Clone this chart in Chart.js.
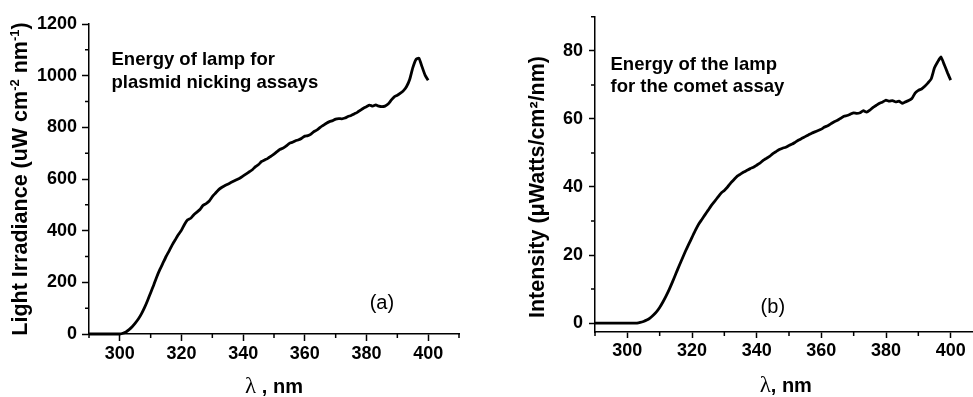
<!DOCTYPE html>
<html>
<head>
<meta charset="utf-8">
<script src="https://cdn.jsdelivr.net/npm/chart.js@4.4.1/dist/chart.umd.min.js"></script>
<style>
  html, body { margin: 0; padding: 0; background: #fff; overflow: hidden; width: 973px; height: 397px; }
  canvas { position: absolute; top: 0; }
  #chartA { left: 0; }
  #chartB { left: 490px; }
</style>
</head>
<body>
<canvas id="chartA" width="480" height="397"></canvas>
<canvas id="chartB" width="500" height="397"></canvas>
<script>
// Panel (a): lamp used for the plasmid nicking assays, irradiance in uW cm-2 nm-1
const wavelengthA = [290, 293, 296, 299, 300, 301, 302, 303, 304, 305, 306, 307, 308, 309, 310,
  311, 312, 313, 314, 315, 316, 317, 318, 319, 320, 321, 322, 323, 324, 325, 326, 327, 328, 329, 330,
  331, 332, 333, 334, 335, 336, 337, 338, 339, 340, 341, 342, 343, 344, 345, 346, 347, 348, 349, 350,
  351, 352, 353, 354, 355, 356, 357, 358, 359, 360, 361, 362, 363, 364, 365, 366, 367, 368, 369, 370,
  371, 372, 373, 374, 375, 376, 377, 378, 379, 380, 381, 382, 383, 384, 385, 386, 387, 388, 389, 390,
  391, 392, 393, 394, 395, 396, 397, 398, 399, 400];
const irradianceA = [0, 0, 0, 0, 0, 3, 8, 17, 28, 42, 58, 78, 102, 130, 160,
  190, 222, 250, 275, 300, 322, 345, 365, 385, 402, 425, 442, 448, 462, 472, 482, 498, 505, 515, 532,
  545, 558, 567, 574, 580, 586, 592, 598, 604, 612, 620, 628, 636, 648, 656, 668, 674, 680, 688, 696,
  706, 715, 720, 728, 738, 742, 748, 752, 758, 766, 768, 774, 784, 790, 800, 808, 816, 822, 826, 832,
  834, 833, 836, 842, 846, 852, 858, 866, 874, 880, 886, 882, 887, 882, 880, 882, 890, 905, 918, 924,
  932, 942, 958, 985, 1030, 1062, 1068, 1035, 1002, 982];

// Panel (b): lamp used for the comet assay, intensity in uWatts/cm2/nm
const wavelengthB = [290, 293, 296, 299, 302, 303, 304, 305, 306, 307, 308, 309, 310,
  311, 312, 313, 314, 315, 316, 317, 318, 319, 320, 321, 322, 323, 324, 325, 326, 327, 328, 329, 330,
  331, 332, 333, 334, 335, 336, 337, 338, 339, 340, 341, 342, 343, 344, 345, 346, 347, 348, 349, 350,
  351, 352, 353, 354, 355, 356, 357, 358, 359, 360, 361, 362, 363, 364, 365, 366, 367, 368, 369, 370,
  371, 372, 373, 374, 375, 376, 377, 378, 379, 380, 381, 382, 383, 384, 385, 386, 387, 388, 389, 390,
  391, 392, 393, 394, 395, 396, 397, 398, 399, 400];
const intensityB = [0, 0, 0, 0, 0, 0, 0.2, 0.5, 0.9, 1.5, 2.3, 3.3, 4.6,
  6.2, 8.0, 10.0, 12.2, 14.5, 16.8, 19.0, 21.2, 23.2, 25.2, 27.2, 29.0, 30.4, 31.8, 33.2, 34.6, 35.8, 37.0, 38.2, 39.0,
  40.0, 41.2, 42.2, 43.2, 43.8, 44.4, 44.9, 45.4, 45.8, 46.4, 47.0, 47.8, 48.4, 49.0, 49.8, 50.4, 51.0, 51.4, 51.7, 52.2,
  52.6, 53.2, 53.8, 54.3, 54.8, 55.3, 55.8, 56.2, 56.6, 57.0, 57.6, 58.0, 58.6, 59.2, 59.6, 60.2, 60.8, 61.0, 61.4, 61.8,
  61.6, 61.8, 62.4, 62.0, 62.6, 63.4, 64.0, 64.6, 65.0, 65.5, 65.2, 65.4, 65.0, 65.2, 64.6, 65.0, 65.4, 66.0, 67.6, 68.4,
  68.8, 69.6, 70.6, 71.8, 75.0, 76.8, 78.2, 76.0, 73.6, 71.4];

// Tick values shared by both panels
const xMajorTicks = [300, 320, 340, 360, 380, 400];
const xMinorTicks = [290, 310, 330, 350, 370, 390, 410];
const yMajorTicksA = [0, 200, 400, 600, 800, 1000, 1200];
const yMinorTicksA = [100, 300, 500, 700, 900, 1100];
const yMajorTicksB = [0, 20, 40, 60, 80];
const yMinorTicksB = [10, 30, 50, 70, 90];

const SANS = '"Liberation Sans", Arial, Helvetica, sans-serif';
const SERIF = '"Liberation Serif", "Times New Roman", serif';

// Draws a row of differently styled text pieces centred on (x, y), optionally rotated
function drawRuns(ctx, runs, x, y, angle) {
  ctx.save();
  ctx.translate(x, y);
  ctx.rotate(angle || 0);
  ctx.textAlign = 'left';
  ctx.textBaseline = 'alphabetic';
  ctx.fillStyle = '#000';
  let total = 0;
  runs.forEach(r => { ctx.font = r.font; r.w = ctx.measureText(r.text).width; total += r.w; });
  let cx = -total / 2;
  runs.forEach(r => { ctx.font = r.font; ctx.fillText(r.text, cx, -(r.rise || 0)); cx += r.w; });
  ctx.restore();
}

// Minor ticks, axis titles and in-plot annotations
const figureDecor = {
  id: 'figureDecor',
  afterDraw(chart, args, opts) {
    const ctx = chart.ctx;
    const xs = chart.scales.x, ys = chart.scales.y;
    ctx.save();
    ctx.strokeStyle = '#000';
    ctx.lineWidth = 1.5;
    ctx.beginPath();
    opts.xMinor.forEach(v => {
      const px = xs.getPixelForValue(v);
      ctx.moveTo(px, xs.top); ctx.lineTo(px, xs.top + opts.minorLen);
    });
    opts.yMinor.forEach(v => {
      const py = ys.getPixelForValue(v);
      ctx.moveTo(ys.right, py); ctx.lineTo(ys.right - opts.minorLen, py);
    });
    ctx.stroke();
    ctx.restore();

    // y-axis title, rotated
    drawRuns(ctx, opts.yTitle, chart.chartArea.left - opts.yTitleGap, ys.getPixelForValue(opts.yTitleCentre), -Math.PI / 2);
    // x-axis title
    drawRuns(ctx, opts.xTitle, xs.getPixelForValue(opts.xTitleCentre), chart.height - opts.xTitleBottom, 0);

    // annotation text block
    ctx.save();
    ctx.fillStyle = '#000';
    ctx.textAlign = 'left';
    ctx.textBaseline = 'alphabetic';
    ctx.font = 'bold 18.5px ' + SANS;
    const ax = xs.getPixelForValue(opts.note.x), ay = ys.getPixelForValue(opts.note.y);
    opts.note.lines.forEach((t, i) => ctx.fillText(t, ax, ay + i * 22.5));
    // panel letter
    ctx.font = '20px ' + SANS;
    ctx.textAlign = 'center';
    ctx.textBaseline = 'middle';
    ctx.fillText(opts.panel.text, xs.getPixelForValue(opts.panel.x), ys.getPixelForValue(opts.panel.y));
    ctx.restore();
  }
};

function buildChart(id, xVals, yVals, cfg) {
  const tickFont = { family: SANS, size: 18, weight: 'bold' };
  return new Chart(document.getElementById(id), {
    type: 'line',
    data: {
      datasets: [{
        data: xVals.map((x, i) => ({ x: x, y: yVals[i] })),
        borderColor: '#000',
        borderWidth: 2.8,
        pointRadius: 0,
        tension: 0.15,
        fill: false,
        clip: false
      }]
    },
    options: {
      responsive: false,
      animation: false,
      events: [],
      layout: { autoPadding: false, padding: cfg.padding },
      plugins: {
        legend: { display: false },
        tooltip: { enabled: false },
        figureDecor: cfg.decor
      },
      scales: {
        x: {
          type: 'linear',
          min: 290,
          max: 410,
          afterBuildTicks: s => { s.ticks = xMajorTicks.map(v => ({ value: v })); },
          afterFit: s => { s.height = cfg.xAxisHeight; },
          ticks: { font: tickFont, color: '#000', padding: cfg.xPad, maxRotation: 0, autoSkip: false, callback: v => String(v) },
          grid: { drawOnChartArea: false, drawTicks: true, tickLength: cfg.tickLen, tickColor: '#000', tickWidth: 1.5 },
          border: { display: true, color: '#000', width: 1.5 }
        },
        y: {
          type: 'linear',
          min: cfg.yMin,
          max: cfg.yMax,
          afterBuildTicks: s => { s.ticks = cfg.yMajor.map(v => ({ value: v })); },
          afterFit: s => { s.width = cfg.yAxisWidth; },
          ticks: { font: tickFont, color: '#000', padding: cfg.yPad, autoSkip: false, callback: v => String(v) },
          grid: { drawOnChartArea: false, drawTicks: true, tickLength: cfg.tickLen, tickColor: '#000', tickWidth: 1.5 },
          border: { display: true, color: '#000', width: 1.5 }
        }
      }
    },
    plugins: [figureDecor]
  });
}

const titleFont = 'bold 21.5px ' + SANS;
const supFont = 'bold 13px ' + SANS;

buildChart('chartA', wavelengthA, irradianceA, {
  padding: { left: 0, top: 24, right: 21, bottom: 0 },
  yAxisWidth: 89, xAxisHeight: 63, tickLen: 7, xPad: 2, yPad: 5,
  yMin: 0, yMax: 1200, yMajor: yMajorTicksA,
  decor: {
    xMinor: xMinorTicks, yMinor: yMinorTicksA, minorLen: 4,
    yTitle: [
      { text: 'Light Irradiance (uW cm', font: titleFont },
      { text: '-2', font: supFont, rise: 8 },
      { text: ' nm', font: titleFont },
      { text: '-1', font: supFont, rise: 8 },
      { text: ')', font: titleFont }
    ],
    yTitleGap: 62, yTitleCentre: 600,
    xTitle: [
      { text: 'λ', font: '23px ' + SERIF },
      { text: ' , nm', font: 'bold 20px ' + SANS }
    ],
    xTitleCentre: 350, xTitleBottom: 4,
    note: { x: 297.3, y: 1040, lines: ['Energy of lamp for', 'plasmid nicking assays'] },
    panel: { text: '(a)', x: 385, y: 120 }
  }
});

buildChart('chartB', wavelengthB, intensityB, {
  padding: { left: 0, top: 16, right: 7, bottom: 0 },
  yAxisWidth: 105, xAxisHeight: 65, tickLen: 6, xPad: 2, yPad: 6,
  yMin: -2.6, yMax: 90, yMajor: yMajorTicksB,
  decor: {
    xMinor: xMinorTicks, yMinor: yMinorTicksB, minorLen: 4,
    yTitle: [
      { text: 'Intensity (μWatts/cm²/nm)', font: titleFont }
    ],
    yTitleGap: 51, yTitleCentre: 40,
    xTitle: [
      { text: 'λ', font: '23px ' + SERIF },
      { text: ', nm', font: 'bold 20px ' + SANS }
    ],
    xTitleCentre: 349, xTitleBottom: 5,
    note: { x: 294.8, y: 74.4, lines: ['Energy of the lamp', 'for the comet assay'] },
    panel: { text: '(b)', x: 345, y: 4.7 }
  }
});
</script>
</body>
</html>
